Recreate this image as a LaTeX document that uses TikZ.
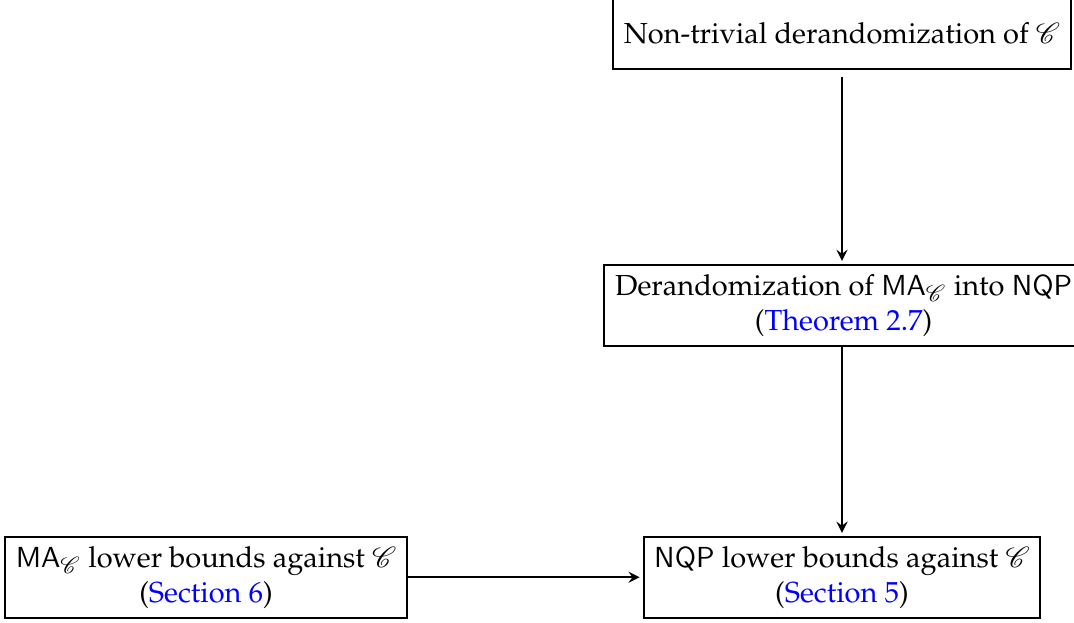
\documentclass[tikz,border=0pt]{standalone}
\usepackage[T1]{fontenc}
\usepackage{mathpazo}
\usepackage{mathrsfs}
\usepackage{xcolor}
\usetikzlibrary{arrows,positioning}

\newcommand{\clsC}{\mathscr{C}}

\begin{document}
\begin{tikzpicture}[box/.style={draw, line width=0.7pt, align=center, inner xsep=3.7pt},
  arr/.style={-stealth, line width=0.7pt, shorten >=1pt}]
\useasboundingbox (0,0) rectangle (13.03,-7.555);

\node[box, minimum height=24.5pt] (nontriv) at (10.215,-0.405) {Non-trivial derandomization of $\clsC$};
\node[box] (derand) at (10.235,-3.705) {Derandomization of $\mathsf{MA}_{\clsC}$ into $\mathsf{NQP}$\\(\textcolor{blue}{Theorem 2.7})};
\node[box] (malb) at (2.50,-7.003) {$\mathsf{MA}_{\clsC}$ lower bounds against $\clsC$\\(\textcolor{blue}{Section 6})};
\node[box] (nqplb) at (10.215,-7.003) {$\mathsf{NQP}$ lower bounds against $\clsC$\\(\textcolor{blue}{Section 5})};

\draw[arr, shorten <=2.5pt] (nontriv) -- (nontriv|-derand.north);
\draw[arr] (derand.south-|nqplb) -- (nqplb);
\draw[arr] (malb) -- (nqplb);
\end{tikzpicture}
\end{document}
